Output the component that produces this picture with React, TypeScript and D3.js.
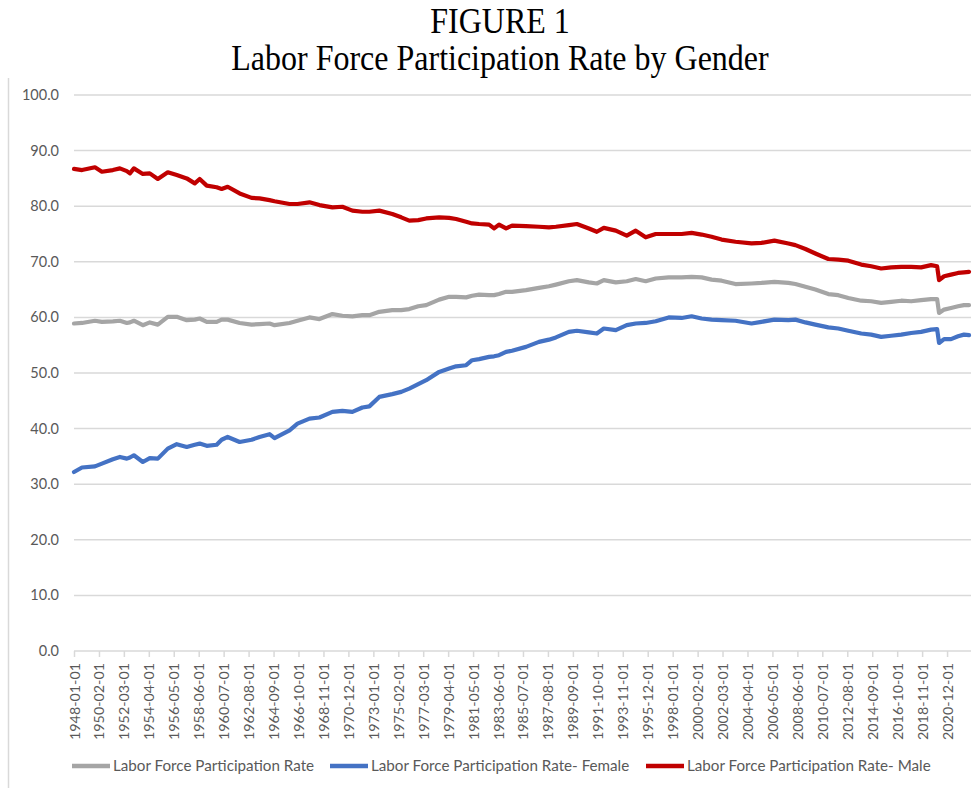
import { useRef, useEffect } from "react";
import * as d3 from "d3";

const dates = [
  "1948-01", "1948-09", "1949-10", "1950-05", "1951-04", "1951-11", "1952-06", "1952-09", "1953-01", "1953-10",
  "1954-05", "1955-01", "1955-11", "1956-08", "1957-06", "1958-02", "1958-07", "1959-02", "1959-12", "1960-05",
  "1960-11", "1961-11", "1962-11", "1963-07", "1964-05", "1964-10", "1966-01", "1966-09", "1967-09", "1968-07",
  "1969-08", "1970-06", "1971-04", "1972-02", "1972-09", "1973-07", "1974-08", "1975-05", "1976-01", "1976-10",
  "1977-06", "1978-07", "1979-05", "1979-12", "1980-10", "1981-04", "1981-11", "1982-09", "1983-02", "1983-07",
  "1984-02", "1984-08", "1985-10", "1986-11", "1987-09", "1988-04", "1989-05", "1990-01", "1991-01", "1991-09",
  "1992-04", "1993-04", "1994-03", "1994-12", "1995-10", "1996-08", "1997-09", "1998-10", "1999-08", "2000-06",
  "2001-04", "2002-02", "2003-04", "2004-08", "2005-06", "2006-07", "2007-09", "2008-04", "2009-02", "2009-12",
  "2011-01", "2011-11", "2012-09", "2013-10", "2014-08", "2015-06", "2016-04", "2017-02", "2017-12", "2018-10",
  "2019-08", "2020-02", "2020-04", "2020-09", "2021-04", "2021-11", "2022-05", "2022-10",
];

const totalRate = [
  58.9, 59.0, 59.4, 59.2, 59.3, 59.4, 59.0, 59.1, 59.4, 58.6,
  59.1, 58.7, 60.1, 60.1, 59.5, 59.6, 59.8, 59.2, 59.2, 59.6,
  59.6, 59.0, 58.7, 58.8, 58.9, 58.6, 59.0, 59.4, 60.0, 59.7,
  60.6, 60.3, 60.2, 60.4, 60.4, 61.0, 61.3, 61.3, 61.5, 62.0,
  62.2, 63.2, 63.7, 63.7, 63.6, 63.9, 64.1, 64.0, 64.0, 64.2,
  64.6, 64.6, 64.9, 65.3, 65.6, 65.9, 66.5, 66.7, 66.3, 66.1,
  66.7, 66.3, 66.5, 66.9, 66.5, 67.0, 67.2, 67.2, 67.3, 67.2,
  66.8, 66.6, 66.0, 66.1, 66.2, 66.4, 66.2, 66.0, 65.5, 65.0,
  64.2, 64.0, 63.5, 63.0, 62.9, 62.6, 62.8, 63.0, 62.9, 63.1,
  63.3, 63.3, 60.8, 61.4, 61.7, 62.0, 62.2, 62.2,
];

const femaleRate = [
  32.2, 33.0, 33.2, 33.7, 34.5, 34.9, 34.6, 34.8, 35.2, 34.0,
  34.7, 34.6, 36.4, 37.2, 36.7, 37.1, 37.3, 36.9, 37.1, 38.0,
  38.5, 37.6, 38.0, 38.5, 39.0, 38.3, 39.7, 40.9, 41.8, 42.0,
  43.0, 43.2, 43.0, 43.8, 44.0, 45.7, 46.2, 46.6, 47.2, 48.0,
  48.7, 50.2, 50.8, 51.2, 51.4, 52.3, 52.5, 52.9, 53.0, 53.2,
  53.8, 54.0, 54.7, 55.6, 56.0, 56.4, 57.4, 57.6, 57.3, 57.1,
  58.0, 57.7, 58.6, 58.9, 59.0, 59.3, 60.0, 59.9, 60.2, 59.8,
  59.6, 59.5, 59.4, 58.9, 59.2, 59.6, 59.5, 59.6, 59.1, 58.7,
  58.2, 58.0, 57.6, 57.1, 56.9, 56.5, 56.7, 56.9, 57.2, 57.4,
  57.8, 57.9, 55.4, 56.1, 56.1, 56.6, 56.9, 56.8,
];

const maleRate = [
  86.7, 86.5, 87.0, 86.2, 86.5, 86.8, 86.3, 85.9, 86.8, 85.8,
  85.9, 84.9, 86.1, 85.6, 85.0, 84.1, 84.9, 83.7, 83.4, 83.1,
  83.5, 82.3, 81.5, 81.4, 81.1, 80.9, 80.4, 80.4, 80.7, 80.2,
  79.8, 79.9, 79.2, 79.0, 79.0, 79.2, 78.6, 78.0, 77.4, 77.5,
  77.8, 78.0, 77.9, 77.7, 77.2, 76.9, 76.8, 76.7, 76.0, 76.7,
  76.0, 76.5, 76.4, 76.3, 76.2, 76.3, 76.6, 76.8, 76.0, 75.4,
  76.1, 75.6, 74.7, 75.6, 74.4, 75.0, 75.0, 75.0, 75.2, 74.9,
  74.5, 74.0, 73.6, 73.3, 73.4, 73.8, 73.3, 73.0, 72.3, 71.5,
  70.5, 70.4, 70.2, 69.5, 69.2, 68.8, 69.0, 69.1, 69.1, 69.0,
  69.4, 69.2, 66.7, 67.4, 67.7, 68.0, 68.1, 68.2,
];

const seriesNames = [
  "Labor Force Participation Rate",
  "Labor Force Participation Rate- Female",
  "Labor Force Participation Rate- Male",
];
const seriesColours = ["#a5a5a5", "#4472c4", "#c00000"];

const yTicks = [0, 10, 20, 30, 40, 50, 60, 70, 80, 90, 100];

// category labels shown on the axis: every 25th month
const xTickLabels = [
  "1948-01-01", "1950-02-01", "1952-03-01", "1954-04-01", "1956-05-01", "1958-06-01",
  "1960-07-01", "1962-08-01", "1964-09-01", "1966-10-01", "1968-11-01", "1970-12-01",
  "1973-01-01", "1975-02-01", "1977-03-01", "1979-04-01", "1981-05-01", "1983-06-01",
  "1985-07-01", "1987-08-01", "1989-09-01", "1991-10-01", "1993-11-01", "1995-12-01",
  "1998-01-01", "2000-02-01", "2002-03-01", "2004-04-01", "2006-05-01", "2008-06-01",
  "2010-07-01", "2012-08-01", "2014-09-01", "2016-10-01", "2018-11-01", "2020-12-01",
];

const W = 980;
const H = 788;
const margin = { top: 95, left: 74, right: 10, bottom: 137 };
const font = "Lato, 'Open Sans', sans-serif";
const serif = "'Liberation Serif', 'Times New Roman', serif";
const grey = "#595959";

function App() {
  const ref = useRef<SVGSVGElement>(null);

  useEffect(() => {
    const svg = d3.select(ref.current);
    svg.selectAll("*").remove();

    const parse = d3.timeParse("%Y-%m");
    const parseFull = d3.timeParse("%Y-%m-%d");
    const xs = dates.map(d => parse(d)!);

    const x = d3.scaleTime()
      .domain([xs[0], xs[xs.length - 1]])
      .range([margin.left, W - margin.right - 1]);
    const y = d3.scaleLinear()
      .domain([0, 100])
      .range([H - margin.bottom, margin.top]);

    // left edge of the chart frame
    svg.append("line")
      .attr("x1", 8.5).attr("x2", 8.5)
      .attr("y1", 78).attr("y2", H)
      .attr("stroke", "#d9d9d9").attr("stroke-width", 1.5);

    // titles (slightly tall, like the original)
    svg.append("text")
      .attr("transform", "translate(500,33) scale(1,1.1)")
      .attr("text-anchor", "middle")
      .attr("font-family", serif)
      .attr("font-size", 32)
      .text("FIGURE 1");
    svg.append("text")
      .attr("transform", "translate(500,70) scale(1,1.1)")
      .attr("text-anchor", "middle")
      .attr("font-family", serif)
      .attr("font-size", 32)
      .text("Labor Force Participation Rate by Gender");

    // gridlines + y labels
    const gy = svg.append("g");
    gy.selectAll("line")
      .data(yTicks)
      .join("line")
      .attr("x1", margin.left).attr("x2", W - margin.right + 1)
      .attr("y1", d => y(d)).attr("y2", d => y(d))
      .attr("stroke", "#d9d9d9").attr("stroke-width", 1.5);
    gy.selectAll("text")
      .data(yTicks)
      .join("text")
      .attr("x", 59).attr("y", d => y(d) + 5)
      .attr("text-anchor", "end")
      .attr("font-family", font).attr("font-size", 14.5)
      .attr("fill", grey)
      .text(d => d.toFixed(1));

    // x axis
    const xAxis = d3.axisBottom(x)
      .tickValues(xTickLabels.map(d => parseFull(d)!))
      .tickSize(6)
      .tickSizeOuter(0)
      .tickFormat(d => d3.timeFormat("%Y-%m-%d")(d as Date));
    const gx = svg.append("g")
      .attr("transform", `translate(0,${y(0)})`)
      .call(xAxis);
    gx.select(".domain").remove();
    gx.selectAll(".tick line").attr("stroke", "#d9d9d9").attr("stroke-width", 1.5);
    gx.selectAll(".tick text")
      .attr("font-family", font).attr("font-size", 14.3)
      .attr("fill", grey)
      .attr("transform", "rotate(-90)")
      .attr("x", -12).attr("y", 0).attr("dy", "0.35em")
      .style("text-anchor", "end");

    // series lines
    const all = [totalRate, femaleRate, maleRate];
    const line = d3.line<number>()
      .x((_, i) => x(xs[i]))
      .y(d => y(d));
    svg.append("g")
      .selectAll("path")
      .data(all)
      .join("path")
      .attr("d", d => line(d))
      .attr("fill", "none")
      .attr("stroke", (_, i) => seriesColours[i])
      .attr("stroke-width", 4.2)
      .attr("stroke-linejoin", "round")
      .attr("stroke-linecap", "round");

    // legend
    const legendX = [72, 330, 646];
    const lg = svg.append("g").attr("transform", "translate(0,766)");
    seriesNames.forEach((name, i) => {
      lg.append("line")
        .attr("x1", legendX[i]).attr("x2", legendX[i] + 38)
        .attr("y1", 0).attr("y2", 0)
        .attr("stroke", seriesColours[i]).attr("stroke-width", 4.5);
      lg.append("text")
        .attr("x", legendX[i] + 41).attr("y", 5)
        .attr("font-family", font).attr("font-size", 15.2)
        .attr("fill", grey)
        .text(name);
    });
  }, []);

  return (
    <svg ref={ref} width={W} height={H}
      style={{ position: "absolute", left: 0, top: 0, background: "#fff" }} />
  );
}

export default App;
